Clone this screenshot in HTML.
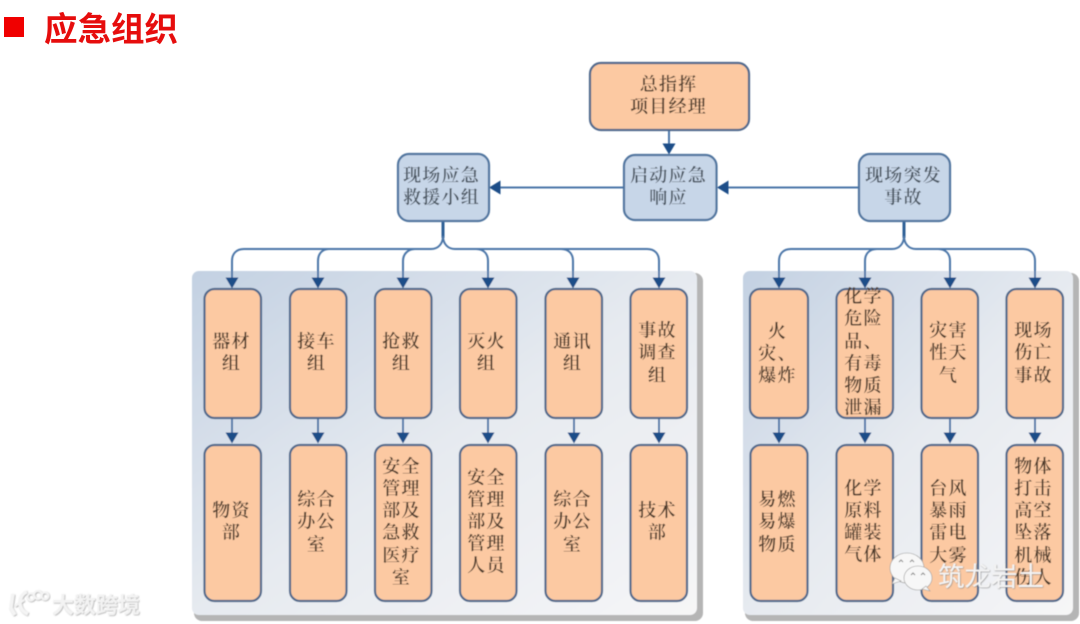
<!DOCTYPE html>
<html lang="zh">
<head>
<meta charset="utf-8">
<style>
html,body{margin:0;padding:0;background:#fff;width:1080px;height:624px;overflow:hidden}
svg{display:block}
.o{fill:#fcc9a2;stroke:#50698c;stroke-width:2.2}
.b{fill:#c7d6e8;stroke:#4f749f;stroke-width:2.2}
.t text{font-family:"Liberation Serif","Noto Serif CJK SC",serif;font-size:18px;text-anchor:middle;letter-spacing:1.2px;fill:#4e3b2c;font-weight:600}
.t .tb text{fill:#47525e}
.l{fill:none;stroke:#4b76a8;stroke-width:2}
.d{fill:none;stroke:#2f5f96;stroke-width:3}
.a{fill:#1b4e88}
</style>
</head>
<body>
<svg width="1080" height="624" viewBox="0 0 1080 624" xmlns="http://www.w3.org/2000/svg">
<defs>
<linearGradient id="p" x1="0" y1="0" x2="1" y2="1">
<stop offset="0" stop-color="#c3d1e2"/><stop offset="0.5" stop-color="#e6eaf0"/><stop offset="1" stop-color="#f6f6f7"/>
</linearGradient>
<filter id="s" x="-2%" y="-2%" width="104%" height="104%"><feGaussianBlur stdDeviation="0.6"/></filter>
<filter id="w" x="-5%" y="-20%" width="110%" height="140%"><feDropShadow dx="0.6" dy="0.6" stdDeviation="0.5" flood-color="#777" flood-opacity="0.8"/></filter>
</defs>

<rect x="4" y="17" width="20" height="20" fill="#f00000"/>
<text x="44" y="41" font-family="'Liberation Sans','Noto Sans CJK SC',sans-serif" font-size="33.500px" font-weight="700" fill="#e60d0d">应急组织</text>

<g filter="url(#s)">
<!-- panels -->
<rect x="194" y="273" width="509" height="348" rx="8" fill="#b5b5b5"/>
<rect x="192" y="271" width="505" height="344" rx="7" fill="url(#p)"/>
<rect x="745" y="273" width="334" height="348" rx="8" fill="#b5b5b5"/>
<rect x="743" y="271" width="330" height="344" rx="7" fill="url(#p)"/>

<!-- top connectors -->
<path class="l" d="M669 130V146M623 187.500H500M858 187.500H728"/>
<path class="a" d="M662.500 143.500h13l-6.500 11zM489 187.500l11.500-7v14zM717 187.500l11.500-7v14z"/>

<!-- left tree -->
<path class="d" d="M443 221V238"/>
<path class="l" d="M443 236c0 8-5 13-12 13H244c-8 0-12 5-12 12v19M443 236c0 8 5 13 12 13H647c8 0 12 5 12 12v19M329 249c-7 0-11 5-11 12v19M415 249c-7 0-12 5-12 12v19M476 249c8 0 12 5 12 12v19M561 249c8 0 12 5 12 12v19"/>
<!-- right tree -->
<path class="d" d="M904 221V238"/>
<path class="l" d="M904 236c0 8-5 13-12 13H791c-8 0-12 5-12 12v19M904 236c0 8 5 13 12 13H1023c8 0 12 5 12 12v19M877 249c-8 0-12 5-12 12v19M938 249c8 0 12 5 12 12v19"/>
<path class="a" d="M225.500 277.500h13l-6.500 11zM311.500 277.500h13l-6.500 11zM396.500 277.500h13l-6.500 11zM481.500 277.500h13l-6.500 11zM566.500 277.500h13l-6.500 11zM652.500 277.500h13l-6.500 11zM772.500 277.500h13l-6.500 11zM858.500 277.500h13l-6.500 11zM943.500 277.500h13l-6.500 11zM1028.500 277.500h13l-6.500 11z"/>

<!-- middle connectors -->
<path class="l" d="M232 418v16M318 418v16M403 418v16M488 418v16M574 418v16M659 418v16M779 418v16M865 418v16M950 418v16M1035 418v16"/>
<path class="a" d="M225.500 432.500h13l-6.500 11zM311.500 432.500h13l-6.500 11zM396.500 432.500h13l-6.500 11zM481.500 432.500h13l-6.500 11zM567.500 432.500h13l-6.500 11zM652.500 432.500h13l-6.500 11zM772.500 432.500h13l-6.500 11zM858.500 432.500h13l-6.500 11zM943.500 432.500h13l-6.500 11zM1028.500 432.500h13l-6.500 11z"/>

<!-- header boxes -->
<rect class="o" x="590" y="63" width="159" height="67" rx="11"/>
<rect class="b" x="624" y="155" width="92.500" height="65" rx="11"/>
<rect class="b" x="398" y="154" width="91" height="67" rx="11"/>
<rect class="b" x="859" y="154" width="91" height="67" rx="11"/>

<!-- top row boxes -->
<g class="o">
<rect x="204.500" y="289" width="56.500" height="129" rx="10"/>
<rect x="290" y="289" width="56.500" height="129" rx="10"/>
<rect x="375" y="289" width="56.500" height="129" rx="10"/>
<rect x="460" y="289" width="56.500" height="129" rx="10"/>
<rect x="545.500" y="289" width="56.500" height="129" rx="10"/>
<rect x="630.500" y="289" width="56.500" height="129" rx="10"/>
<rect x="750" y="289" width="58" height="129" rx="10"/>
<rect x="836.500" y="289" width="56.500" height="129" rx="10"/>
<rect x="921.500" y="289" width="56.500" height="129" rx="10"/>
<rect x="1006.500" y="289" width="56.500" height="129" rx="10"/>
<!-- bottom row boxes -->
<rect x="204.500" y="445" width="56.500" height="156" rx="10"/>
<rect x="290" y="445" width="56.500" height="156" rx="10"/>
<rect x="375" y="445" width="56.500" height="156" rx="10"/>
<rect x="460" y="445" width="56.500" height="156" rx="10"/>
<rect x="545.500" y="445" width="56.500" height="156" rx="10"/>
<rect x="630.500" y="445" width="56.500" height="156" rx="10"/>
<rect x="750.500" y="445" width="57" height="156" rx="10"/>
<rect x="836.500" y="445" width="56.500" height="156" rx="10"/>
<rect x="921.500" y="445" width="56.500" height="156" rx="10"/>
<rect x="1006.500" y="445" width="56.500" height="156" rx="10"/>
</g>

<!-- labels -->
<g class="t" transform="translate(-1.500 0.700)">
<text x="670" y="90">总指挥</text><text x="670" y="112">项目经理</text>
<g class="tb">
<text x="670" y="181">启动应急</text><text x="670" y="203">响应</text>
<text x="443" y="181">现场应急</text><text x="443" y="203">救援小组</text>
<text x="905" y="181">现场突发</text><text x="905" y="203">事故</text>
</g>
<text x="233" y="347">器材</text><text x="233" y="369">组</text>
<text x="318" y="347">接车</text><text x="318" y="369">组</text>
<text x="403" y="347">抢救</text><text x="403" y="369">组</text>
<text x="488" y="347">灭火</text><text x="488" y="369">组</text>
<text x="574" y="347">通讯</text><text x="574" y="369">组</text>
<text x="659" y="336">事故</text><text x="659" y="358">调查</text><text x="659" y="381">组</text>
<text x="779" y="337">火</text><text x="779" y="359">灾、</text><text x="779" y="381">爆炸</text>
<text x="865" y="302">化学</text><text x="865" y="324">危险</text><text x="865" y="347">品、</text><text x="865" y="369">有毒</text><text x="865" y="391">物质</text><text x="865" y="413">泄漏</text>
<text x="950" y="336">灾害</text><text x="950" y="358">性天</text><text x="950" y="381">气</text>
<text x="1035" y="336">现场</text><text x="1035" y="358">伤亡</text><text x="1035" y="381">事故</text>

<text x="233" y="516">物资</text><text x="233" y="538">部</text>
<text x="318" y="505">综合</text><text x="318" y="527">办公</text><text x="318" y="550">室</text>
<text x="403" y="472">安全</text><text x="403" y="494">管理</text><text x="403" y="516">部及</text><text x="403" y="538">急救</text><text x="403" y="561">医疗</text><text x="403" y="583">室</text>
<text x="488" y="483">安全</text><text x="488" y="505">管理</text><text x="488" y="527">部及</text><text x="488" y="549">管理</text><text x="488" y="571">人员</text>
<text x="574" y="505">综合</text><text x="574" y="527">办公</text><text x="574" y="550">室</text>
<text x="659" y="516">技术</text><text x="659" y="538">部</text>
<text x="779" y="505">易燃</text><text x="779" y="527">易爆</text><text x="779" y="550">物质</text>
<text x="865" y="494">化学</text><text x="865" y="516">原料</text><text x="865" y="538">罐装</text><text x="865" y="560">气体</text>
<text x="950" y="494">台风</text><text x="950" y="516">暴雨</text><text x="950" y="538">雷电</text><text x="950" y="561">大雾</text>
<text x="1035" y="472">物体</text><text x="1035" y="494">打击</text><text x="1035" y="516">高空</text><text x="1035" y="538">坠落</text><text x="1035" y="561">机械</text><text x="1035" y="583">伤人</text>
</g>

<!-- watermark: WeChat-style icon -->
<g fill="#f7f7f7" stroke="#9a9a9a" stroke-width="0.6">
<ellipse cx="907" cy="568" rx="17" ry="15"/>
<path d="M895 578l-3 6 9-3z"/>
<ellipse cx="918" cy="578" rx="14" ry="12"/>
<path d="M926 586l4 5-8-2z"/>
</g>
<g fill="none" stroke="#888" stroke-width="1">
<path d="M899 562l2-2 2 2M910 562l2-2 2 2M911 575l2-2 2 2M921 575l2-2 2 2"/>
</g>
<text x="938" y="586" font-family="'Liberation Sans','Noto Sans CJK SC',sans-serif" font-size="26.500px" fill="#f4f4f4" filter="url(#w)">筑龙岩土</text>

<!-- watermark: bottom-left logo -->
<g fill="none" stroke="#f4f4f4" stroke-width="3.500" filter="url(#w)">
<path d="M13 594l-2 14 4 7"/>
<path d="M27 592c-9 3-10 18 1 22"/>
<path d="M15 606l9-6" stroke-width="2.500"/>
<circle cx="31" cy="597" r="3.500" stroke-width="2"/>
<circle cx="38" cy="595" r="4" stroke-width="2"/>
<circle cx="45" cy="596" r="3.500" stroke-width="2"/>
</g>
<text x="52" y="613" font-family="'Liberation Sans','Noto Sans CJK SC',sans-serif" font-size="22px" font-weight="700" fill="#f3f3f3" filter="url(#w)">大数跨境</text>
</g>
</svg>
</body>
</html>
